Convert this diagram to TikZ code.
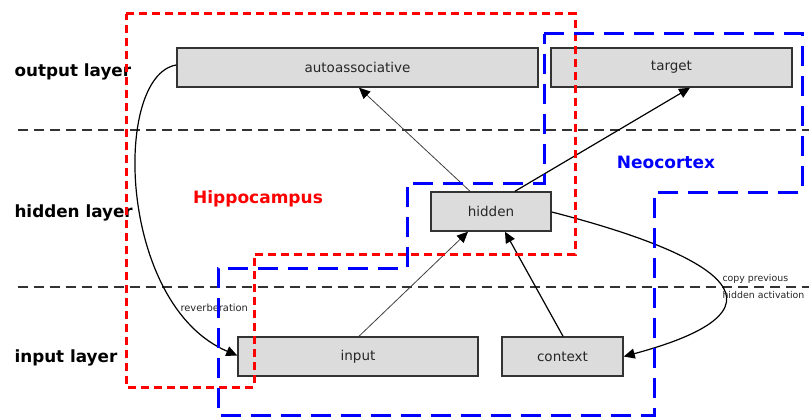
\documentclass[tikz,border=0pt]{standalone}
\usepackage{fontspec}
\setmainfont{DejaVu Sans}
\usetikzlibrary{arrows.meta}
\definecolor{boxfill}{HTML}{DCDCDC}
\definecolor{boxline}{HTML}{333333}
\definecolor{sepline}{HTML}{333333}
\begin{document}
\begin{tikzpicture}[x=1pt,y=-1pt,
  unit/.style={draw=boxline, line width=1.5pt, fill=boxfill, inner sep=0pt,
    font=\fontsize{13.5}{15}\selectfont, text=black!85},
  layerlabel/.style={font=\bfseries\fontsize{16.8}{18}\selectfont, anchor=west},
  separator/.style={draw=sepline, line width=1.4pt, dash pattern=on 10pt off 6pt},
  hippo/.style={draw=red, line width=3pt, dash pattern=on 8pt off 5pt},
  neo/.style={draw=blue, line width=3pt, dash pattern=on 20pt off 10pt},
  regionlabel/.style={font=\bfseries\fontsize{17}{18}\selectfont},
  smalltext/.style={font=\fontsize{9.9}{11}\selectfont, text=black!85},
  tip/.style={-{Triangle[length=11pt,width=10pt,color=black]}},
  thin/.style={draw=black!75, line width=0.8pt},
  thick/.style={draw=black, line width=1.2pt}]
\useasboundingbox (0,0) rectangle (809,420);
\fill[white] (0,0) rectangle (809,420);

% layer separators
\draw[separator] (18,130) -- (809,130);
\draw[separator] (18,287) -- (809,287);

% layer names
\node[layerlabel] (lout) at (11,72) {output layer};
\node[layerlabel] (lhid) at (11,213) {hidden layer};
\node[layerlabel] (lin) at (11,358) {input layer};

% units
\node[unit, minimum width=361pt, minimum height=39pt] (auto) at (357.5,67.5) {autoassociative};
\node[unit, minimum width=241pt, minimum height=39pt] (target) at (671.5,67.5) {target};
\node[unit, minimum width=120pt, minimum height=39pt] (hidden) at (491,211.5) {hidden};
\node[unit, minimum width=240pt, minimum height=39pt] (input) at (358,356.5) {input};
\node[unit, minimum width=121pt, minimum height=39pt] (context) at (562.5,356.5) {context};

% connections between units
\draw[thin, tip] ([xshift=-21pt]hidden.north) -- ([xshift=1.5pt]auto.south);
\draw[thick, tip] ([xshift=24pt]hidden.north) -- ([xshift=18.5pt]target.south);
\draw[thin, tip] ([xshift=1pt]input.north) -- ([xshift=-23pt]hidden.south);
\draw[thick, tip] ([xshift=0.5pt]context.north) -- ([xshift=14pt]hidden.south);
\draw[thick, tip] ([yshift=-0.5pt]hidden.east) .. controls (700,250) and (815,305) .. (context.east);
\draw[thick, tip] ([yshift=2.5pt]auto.west) .. controls (112,76) and (118,305) .. ([yshift=1pt]input.west);

% curve labels
\node[smalltext, anchor=west] (rev) at (177,308) {reverberation};
\node[smalltext, anchor=west, font=\fontsize{9.4}{11}\selectfont] (copy1) at (719,279) {copy previous};
\node[smalltext, anchor=west, font=\fontsize{9.4}{11}\selectfont] (copy2) at (719,295) {hidden activation};

% regions
\draw[hippo] (126,14) -- (575,14) -- (575,254) -- (254,254) -- (254,387) -- (126,387) -- cycle;
\draw[neo] (544,34) -- (802,34) -- (802,192) -- (654,192) -- (654,415) -- (218,415)
  -- (218,268) -- (407,268) -- (407,183) -- (544,183) -- cycle;
\node[regionlabel, text=red] (hlabel) at (258,199) {Hippocampus};
\node[regionlabel, text=blue] (nlabel) at (666,162) {Neocortex};
\end{tikzpicture}
\end{document}
